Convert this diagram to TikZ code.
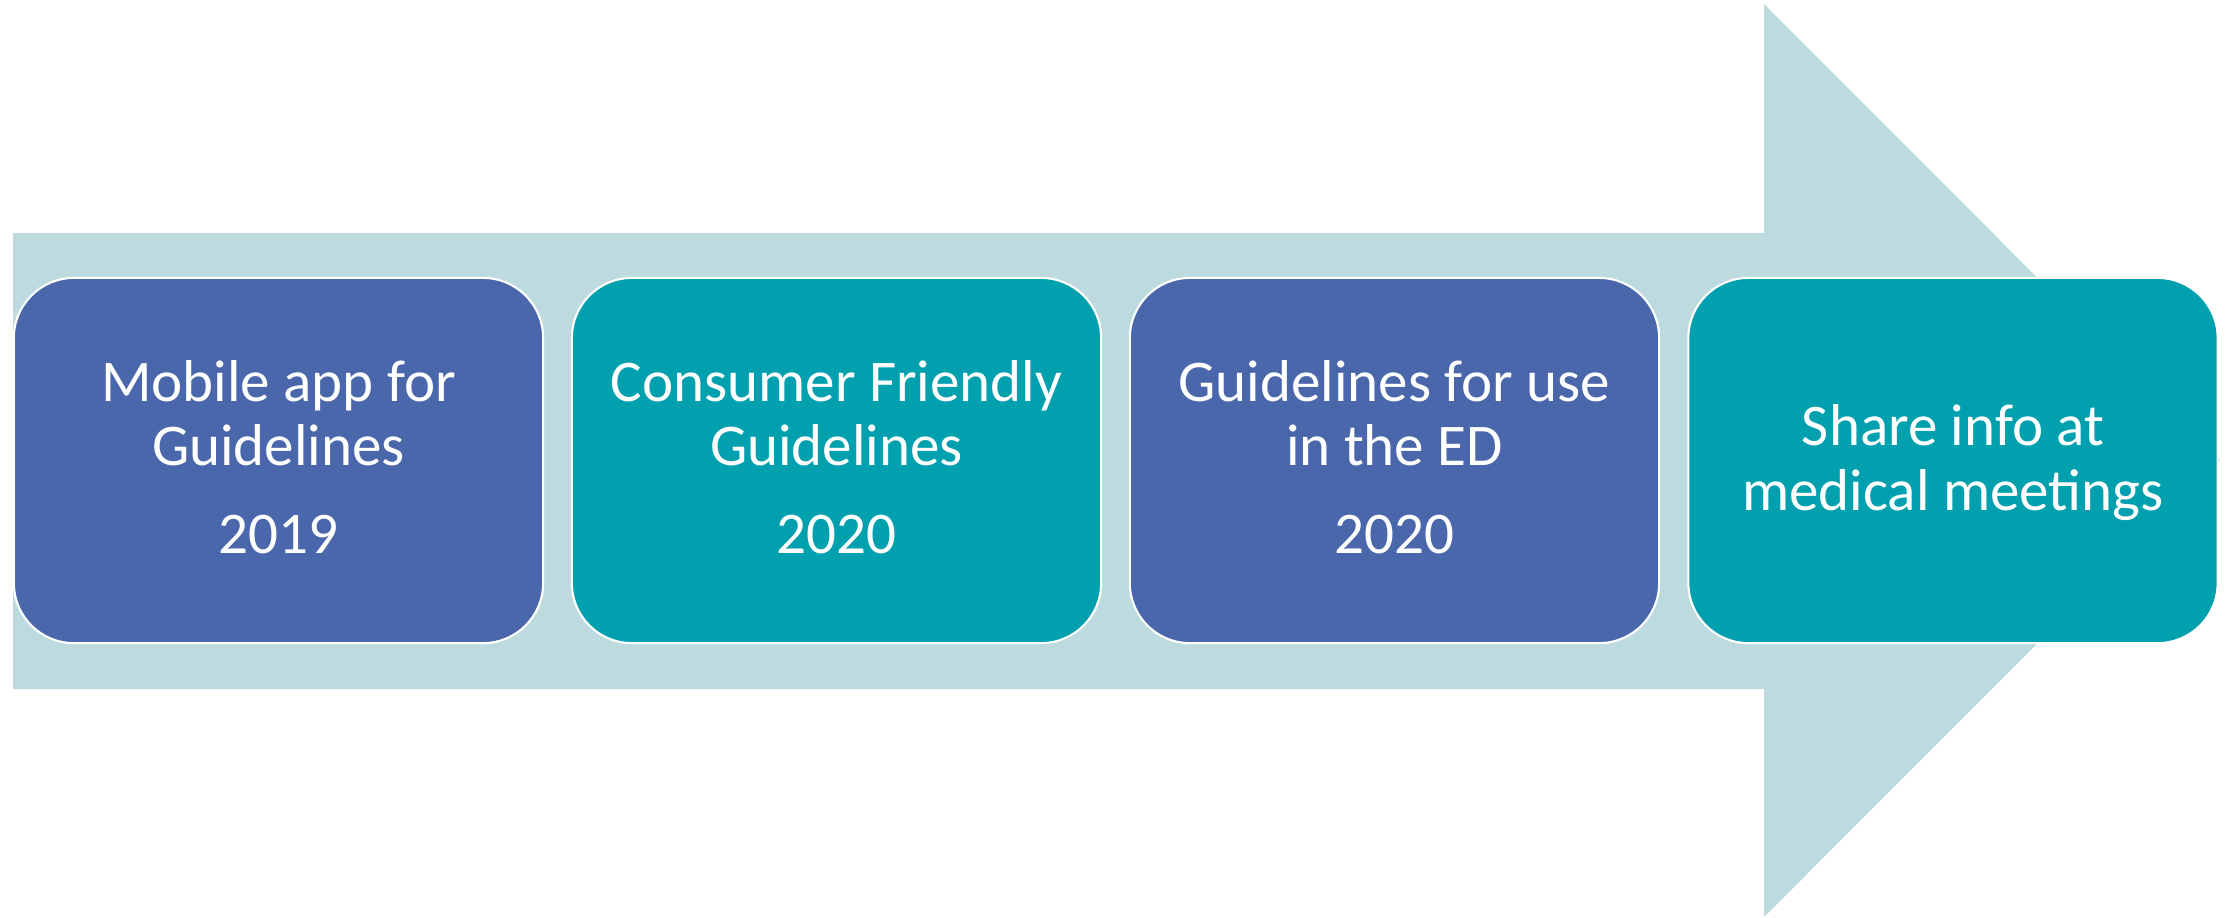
\documentclass[tikz,border=0pt]{standalone}
\usepackage{fontspec}
\setmainfont{Carlito}
\usetikzlibrary{calc}
\definecolor{arrowfill}{RGB}{189,219,223}
\definecolor{boxblue}{RGB}{74,103,172}
\definecolor{boxteal}{RGB}{0,160,174}
\tikzset{
  stagebox/.style={draw=white, line width=0.6pt, rounded corners=0.6cm,
    minimum width=5.29cm, minimum height=3.65cm, inner sep=0pt, outer sep=0pt},
  txt/.style={text=white, anchor=base, inner sep=0pt,
    font=\fontsize{16.8}{18.2}\selectfont}
}
\begin{document}
\begin{tikzpicture}[x=0.01cm, y=-0.01cm]
\useasboundingbox (0,0) rectangle (2236,917);
% big arrow
\fill[arrowfill] (13,233) -- (1764,233) -- (1764,4) -- (2220,460.5) -- (1764,917) -- (1764,689) -- (13,689) -- cycle;
% boxes
\node[stagebox, fill=boxblue] (b1) at (278.5,460.5) {};
\node[stagebox, fill=boxteal] (b2) at (836.5,460.5) {};
\node[stagebox, fill=boxblue] (b3) at (1394.5,460.5) {};
\node[stagebox, fill=boxteal] (b4) at (1953,460.5) {};
% texts
\node[txt] (t1a) at ($(b1.center)+(0,-59.5)$) {Mobile app for};
\node[txt] (t1b) at ($(b1.center)+(0,4.5)$) {Guidelines};
\node[txt] (t1c) at ($(b1.center)+(0,92.5)$) {2019};
\node[txt] (t2a) at ($(b2.center)+(0,-59.5)$) {Consumer Friendly};
\node[txt] (t2b) at ($(b2.center)+(0,4.5)$) {Guidelines};
\node[txt] (t2c) at ($(b2.center)+(0,92.5)$) {2020};
\node[txt] (t3a) at ($(b3.center)+(0,-59.5)$) {Guidelines for use};
\node[txt] (t3b) at ($(b3.center)+(0,4.5)$) {in the ED};
\node[txt] (t3c) at ($(b3.center)+(0,92.5)$) {2020};
\node[txt] (t4a) at ($(b4.center)+(0,-15.5)$) {Share info at};
\node[txt] (t4b) at ($(b4.center)+(0,49.5)$) {medical meetings};
\end{tikzpicture}
\end{document}
